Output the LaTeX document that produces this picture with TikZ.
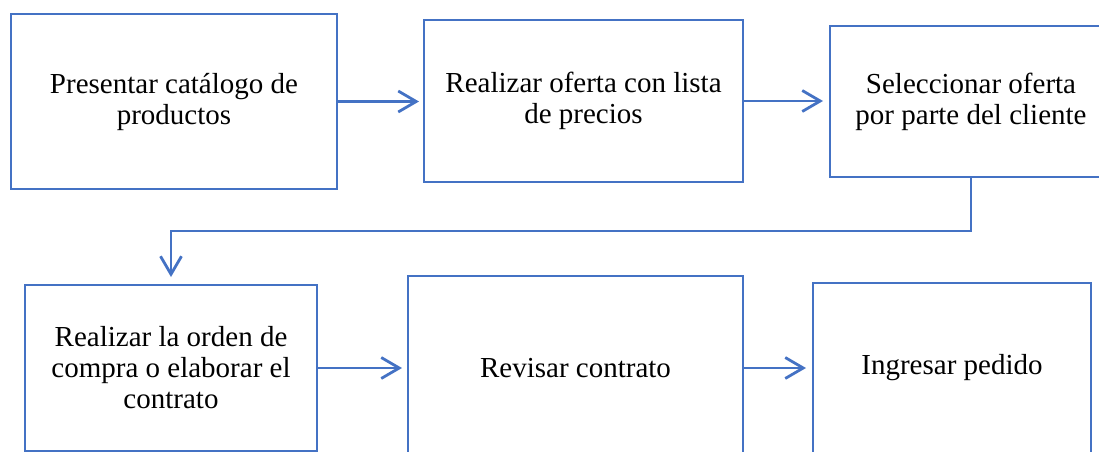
\documentclass[tikz,border=0pt]{standalone}
\usepackage{fontspec}
\setmainfont{Liberation Serif}
\usetikzlibrary{arrows.meta}
\definecolor{boxblue}{HTML}{4472C4}

\begin{document}
\begin{tikzpicture}[x=1pt, y=-1pt,
		paso/.style={draw=boxblue, line width=2.8pt, rectangle, inner sep=0pt, outer sep=0pt,
			align=center, font=\fontsize{29}{31}\selectfont},
		flecha/.style={draw=boxblue, line width=2.8pt,
			-{Straight Barb[length=18pt, width=21pt, line width=2.8pt]}}]
	%%%%% START %%%%%
	
	\useasboundingbox (0, 0) rectangle (1099, 451);
	
	% fila de arriba
	\node[paso, minimum width=326pt, minimum height=175pt] (catalogo) at (174, 101.5) {Presentar catálogo de\\productos};
	\node[paso, minimum width=319pt, minimum height=162pt] (oferta) at (583.5, 101) {Realizar oferta con lista\\de precios};
	\node[paso, minimum width=282pt, minimum height=151pt] (seleccion) at (971, 101.5) {Seleccionar oferta\\por parte del cliente};
	
	% fila de abajo
	\node[paso, minimum width=292pt, minimum height=166pt] (orden) at (171, 368) {Realizar la orden de\\compra o elaborar el\\contrato};
	\node[paso, minimum width=335pt, minimum height=184pt] (contrato) at (575.5, 368) {Revisar contrato};
	\node[paso, minimum width=278pt, minimum height=170pt] (pedido) at (952, 368) {Ingresar pedido};
	
	\draw[flecha, shorten >=5pt] (catalogo.east) -- (catalogo.east -| oferta.west);
	\draw[flecha, shorten >=7pt] (oferta.east) -- (oferta.east -| seleccion.west);
	
	\draw[flecha, shorten >=8pt] (seleccion.south) -- ++(0, 54) -| (orden.north);
	
	\draw[flecha, shorten >=6pt] (orden.east) -- (orden.east -| contrato.west);
	\draw[flecha, shorten >=7pt] (contrato.east) -- (contrato.east -| pedido.west);
	
	%%%%% END %%%%%
\end{tikzpicture}
\end{document}
